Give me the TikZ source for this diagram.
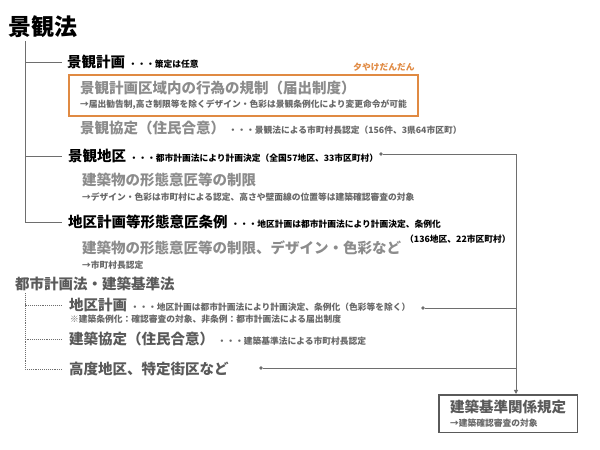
\documentclass[tikz,border=0pt]{standalone}
\usepackage{fontspec}
\setmainfont{Noto Sans CJK JP}
\usetikzlibrary{positioning,fit,arrows.meta}
\definecolor{yuyake}{HTML}{E08A43}
\definecolor{inkmid}{HTML}{5A5A5A}
\definecolor{inklight}{HTML}{8C8C8C}
\definecolor{inknote}{HTML}{686868}
\definecolor{wire}{HTML}{6E6E6E}
\tikzset{x=1pt, y=-1pt,
        every node/.style={inner sep=0pt, anchor=west}, % text placed by its left end
        lawtitle/.style={font=\bfseries\fontsize{23}{26}\selectfont},
        head/.style={font=\bfseries\fontsize{14.5}{17}\selectfont},
        lighthead/.style={head, text=inklight},
        midhead/.style={head, text=inkmid},
        note/.style={font=\bfseries\fontsize{8.75}{11}\selectfont},
        graynote/.style={note, text=inknote},
        tree/.style={draw=wire, line width=0.9pt},
        dottree/.style={tree, densely dotted},
        link/.style={draw=wire, line width=1pt},
        dot/.style={circle, fill=wire, minimum size=3.8pt, anchor=center},
        sunsetbox/.style={draw=yuyake, line width=1.5pt, inner xsep=11pt, inner ysep=6pt, anchor=center},
        rulebox/.style={draw=inkmid, line width=1.6pt, inner xsep=11pt, inner ysep=5pt, anchor=center}
        }
\begin{document}
\begin{tikzpicture}
    \useasboundingbox (0,0) rectangle (600,450);

    % 景観法
    \node[lawtitle] (law) at (8,27) {景観法};
    \node[head] (plan) at (67,62) {景観計画};
    \node[note] (plannote) [base right=3pt of plan] {・・・策定は任意};
    \node[lighthead] (reg) at (80,88) {景観計画区域内の行為の規制（届出制度）};
    \node[graynote] (regnote) at (80,105) {→届出勧告制,高さ制限等を除くデザイン・色彩は景観条例化により変更命令が可能};
    \node[sunsetbox, fit=(reg)(regnote)] (regbox) {};
    \node[note, text=yuyake, anchor=south east] (tag) [above left=2pt and 4pt of regbox.north east] {夕やけだんだん};
    \node[lighthead] (agree) at (80,128) {景観協定（住民合意）};
    \node[graynote] (agreenote) [base right=3pt of agree] {・・・景観法による市町村長認定（156件、3県64市区町）};
    \node[head] (district) at (68,156) {景観地区};
    \node[note] (districtnote) [base right=3pt of district] {・・・都市計画法により計画決定（全国57地区、33市区町村）};
    \node[lighthead] (form) at (82,180) {建築物の形態意匠等の制限};
    \node[graynote] (formnote) at (82,197) {→デザイン・色彩は市町村による認定、高さや壁面線の位置等は建築確認審査の対象};
    \node[head] (ordin) at (68,222) {地区計画等形態意匠条例};
    \node[note] (ordinnote) [base right=3pt of ordin] {・・・地区計画は都市計画法により計画決定、条例化};
    \node[note] (ordincount) at (405,239) {（136地区、22市区町村）};
    \node[lighthead] (formb) at (82,248) {建築物の形態意匠等の制限、デザイン・色彩など};
    \node[graynote] (formbnote) at (82,265) {→市町村長認定};

    % 都市計画法・建築基準法
    \node[midhead] (city) at (15,284) {都市計画法・建築基準法};
    \node[midhead] (dplan) at (69,305) {地区計画};
    \node[graynote] (dplannote) [base right=3pt of dplan] {・・・地区計画は都市計画法により計画決定、条例化（色彩等を除く）};
    \node[graynote] (dplansub) at (70,319) {※建築条例化：確認審査の対象、非条例：都市計画法による届出制度};
    \node[midhead] (bagree) at (69,339) {建築協定（住民合意）};
    \node[graynote] (bagreenote) [base right=3pt of bagree] {・・・建築基準法による市町村長認定};
    \node[midhead] (height) at (69,369) {高度地区、特定街区など};

    % 建築基準関係規定
    \node[midhead] (kijun) at (450,407) {建築基準関係規定};
    \node[graynote] (kijunnote) at (450,423) {→建築確認審査の対象};
    \node[rulebox, fit=(kijun)(kijunnote)] (kijunbox) {};

    % tree lines
    \coordinate (trunk) at (25,41);
    \draw[tree] (trunk) |- ([xshift=-5pt]plan.west);
    \draw[tree] (trunk) |- ([xshift=-6pt]district.west);
    \draw[tree] (trunk) |- ([xshift=-6pt]ordin.west);
    \coordinate (dtrunk) at (25,293);
    \draw[dottree] (dtrunk) |- ([xshift=-7pt]dplan.west);
    \draw[dottree] (dtrunk) |- ([xshift=-7pt]bagree.west);
    \draw[dottree] (dtrunk) |- ([xshift=-7pt]height.west);

    % links to 建築基準関係規定
    \node[dot] (districtdot) at (381,154) {};
    \node[dot] (dplandot) at (423,308) {};
    \node[dot] (heightdot) at (261,368) {};
    \coordinate (bend) at (516,154);
    \draw[link, -{Triangle[length=4pt,width=4pt]}] (districtdot) -- (bend) -- (bend |- kijunbox.north);
    \draw[link] (dplandot) -- (dplandot -| bend);
    \draw[link] (heightdot) -- (heightdot -| bend);
\end{tikzpicture}
\end{document}
